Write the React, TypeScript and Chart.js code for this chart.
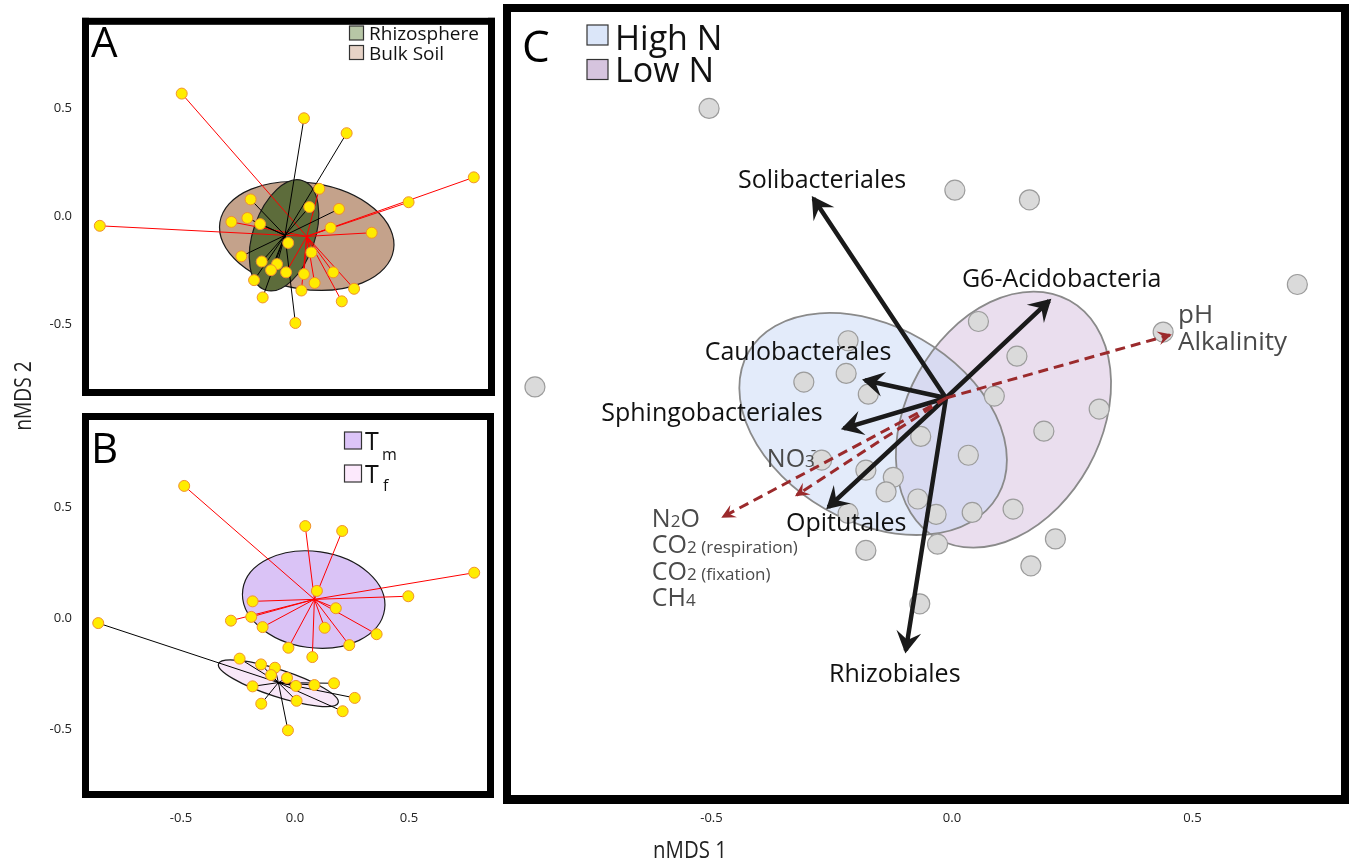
import React, { useEffect, useRef } from 'react';
import { Chart, registerables } from 'chart.js';

Chart.register(...registerables);

const FIG_W = 1355;
const FIG_H = 865;
const FONT = "'Open Sans', 'DejaVu Sans', sans-serif";

// ---------------- Panel A : Rhizosphere vs Bulk Soil ----------------
const rhizoX = [0.030, 0.214, 0.053, 0.181, -0.200, -0.214, -0.159, -0.038, -0.240, -0.152, -0.086, -0.112, -0.185, -0.148, -0.007];
const rhizoY = [0.452, 0.383, 0.042, 0.033, 0.077, -0.009, -0.037, -0.124, -0.186, -0.210, -0.222, -0.250, -0.296, -0.376, -0.494];
const rhizoCentroid = [-0.052, -0.089];
const bulkX = [-0.497, -0.850, -0.283, 0.481, 0.762, 0.096, 0.145, 0.322, 0.062, -0.047, 0.030, 0.019, 0.076, 0.156, 0.246, 0.193];
const bulkY = [0.566, -0.045, -0.027, 0.064, 0.179, 0.126, -0.054, -0.077, -0.168, -0.260, -0.268, -0.344, -0.309, -0.260, -0.336, -0.394];
const bulkCentroid = [0.042, -0.094];
// ellipse: centre x, centre y, semi-axis x, semi-axis y, rotation (deg)
const bulkEllipse = [0.042, -0.092, 0.379, 0.246, 9];
const rhizoEllipse = [-0.056, -0.089, 0.133, 0.267, 19];

// ---------------- Panel B : Tm vs Tf ----------------
const tmX = [-0.486, 0.045, 0.207, 0.786, 0.497, 0.096, -0.186, 0.179, -0.281, -0.192, -0.142, 0.130, 0.358, -0.029, 0.238, 0.076];
const tmY = [0.595, 0.414, 0.392, 0.204, 0.098, 0.122, 0.075, 0.044, -0.012, 0.005, -0.041, -0.044, -0.073, -0.134, -0.122, -0.176];
const tmCentroid = [0.085, 0.084];
const tfX = [-0.863, -0.243, -0.149, -0.088, -0.105, -0.035, -0.186, 0.004, 0.085, 0.171, 0.262, -0.148, 0.007, 0.209, -0.031];
const tfY = [-0.023, -0.183, -0.209, -0.224, -0.257, -0.270, -0.308, -0.306, -0.302, -0.294, -0.360, -0.386, -0.373, -0.420, -0.506];
const tfCentroid = [-0.073, -0.291];
const tmEllipse = [0.082, 0.083, 0.314, 0.217, 8];
const tfEllipse = [-0.073, -0.294, 0.276, 0.061, 18];

// ---------------- Panel C : High N vs Low N ----------------
const cX = [-0.505, 0.006, 0.161, 0.718, -0.867, -0.216, -0.220, -0.308, -0.174, 0.055, 0.135, 0.088, 0.306, 0.439, -0.065, 0.191, 0.034, -0.271, -0.179, -0.122, -0.137, -0.071, -0.216, -0.033, 0.042, 0.127, -0.179, -0.030, 0.215, 0.164, -0.067];
const cY = [0.602, 0.432, 0.412, 0.236, 0.023, 0.119, 0.051, 0.033, 0.008, 0.159, 0.087, 0.004, -0.023, 0.137, -0.080, -0.069, -0.119, -0.129, -0.150, -0.165, -0.195, -0.210, -0.240, -0.242, -0.238, -0.231, -0.317, -0.304, -0.293, -0.349, -0.428];
const highNEllipse = [-0.164, -0.054, 0.299, 0.203, 30];
const lowNEllipse = [0.107, -0.045, 0.202, 0.283, 29];
const vectorOrigin = [-0.0125, 0];
const taxaNames = ['Solibacteriales', 'G6-Acidobacteria', 'Caulobacterales', 'Sphingobacteriales', 'Opitutales', 'Rhizobiales'];
const taxaX = [-0.288, 0.202, -0.181, -0.225, -0.257, -0.096];
const taxaY = [0.415, 0.202, 0.037, -0.063, -0.227, -0.525];
const envX = [0.453, -0.323, -0.476];
const envY = [0.131, -0.202, -0.247];

const axisTicks = [-0.5, 0, 0.5];

// label anchors (data units of panel C)
const taxaLabelAt = [[-0.270, 0.436], [0.228, 0.230], [-0.320, 0.079], [-0.499, -0.048], [-0.220, -0.277], [-0.119, -0.590]];
const envLabels: any[] = [
  { at: [0.470, 0.155], segs: [['pH', 26]] },
  { at: [0.470, 0.100], segs: [['Alkalinity', 26]] },
  { at: [-0.385, -0.143], segs: [['NO', 25], ['3', 17], ['-', 17, -12, -4]] },
  { at: [-0.624, -0.268], segs: [['N', 25], ['2', 17], ['O', 25]] },
  { at: [-0.624, -0.323], segs: [['CO', 25], ['2', 17], [' (respiration)', 17]] },
  { at: [-0.624, -0.378], segs: [['CO', 25], ['2', 17], [' (fixation)', 17]] },
  { at: [-0.624, -0.432], segs: [['CH', 25], ['4', 17]] },
];

const YEL = '#ffec00';
const YEL_EDGE = '#f0902e';
const TICK_COLOR = '#222';

const pts = (xs: number[], ys: number[]) => xs.map((x, i) => ({ x, y: ys[i] }));
const GAP = { x: NaN, y: NaN };
const spokes = (c: number[], xs: number[], ys: number[]) =>
  xs.flatMap((x, i) => [{ x: c[0], y: c[1] }, { x, y: ys[i] }, GAP]);

function ellipsePath(chart: any, e: number[]) {
  const ctx = chart.ctx;
  const xs = chart.scales.x, ys = chart.scales.y;
  const kx = Math.abs(xs.getPixelForValue(1) - xs.getPixelForValue(0));
  const ky = Math.abs(ys.getPixelForValue(1) - ys.getPixelForValue(0));
  ctx.beginPath();
  ctx.ellipse(xs.getPixelForValue(e[0]), ys.getPixelForValue(e[1]), e[2] * kx, e[3] * ky, (e[4] * Math.PI) / 180, 0, Math.PI * 2);
}

function frame(ctx: any, ca: any, t: number, tb: number) {
  ctx.save();
  ctx.fillStyle = '#000';
  ctx.fillRect(ca.left - t, ca.top - t, ca.width + 2 * t, t);
  ctx.fillRect(ca.left - t, ca.bottom, ca.width + 2 * t, tb);
  ctx.fillRect(ca.left - t, ca.top - t, t, ca.height + t + tb);
  ctx.fillRect(ca.right, ca.top - t, t, ca.height + t + tb);
  ctx.restore();
}

function drawRich(ctx: any, x: number, y: number, segs: any[], color: string, align = 'left') {
  ctx.save();
  ctx.fillStyle = color;
  ctx.textBaseline = 'alphabetic';
  ctx.textAlign = 'left';
  let w = 0;
  for (const s of segs) { ctx.font = `${s[1]}px ${FONT}`; w += ctx.measureText(s[0]).width + (s[3] || 0); }
  let cx = align === 'center' ? x - w / 2 : x;
  for (const s of segs) {
    ctx.font = `${s[1]}px ${FONT}`;
    cx += s[3] || 0;
    ctx.fillText(s[0], cx, y + (s[2] || 0));
    cx += ctx.measureText(s[0]).width;
  }
  ctx.restore();
}

function swatch(ctx: any, x: number, y: number, w: number, h: number, fill: string) {
  ctx.save();
  ctx.fillStyle = fill;
  ctx.fillRect(x, y, w, h);
  ctx.strokeStyle = '#333';
  ctx.lineWidth = 1.2;
  ctx.strokeRect(x, y, w, h);
  ctx.restore();
}

function text(ctx: any, s: string, x: number, y: number, size: number, color = '#111', align = 'left') {
  ctx.save();
  ctx.font = `${size}px ${FONT}`;
  ctx.fillStyle = color;
  ctx.textAlign = align;
  ctx.textBaseline = 'alphabetic';
  ctx.fillText(s, x, y);
  ctx.restore();
}

function arrowHead(ctx: any, x0: number, y0: number, x1: number, y1: number, len: number, half: number, color: string, ext: number) {
  const a = Math.atan2(y1 - y0, x1 - x0);
  const c = Math.cos(a), s = Math.sin(a);
  const tx = x1 + c * ext, ty = y1 + s * ext;
  ctx.save();
  ctx.fillStyle = color;
  ctx.beginPath();
  ctx.moveTo(tx, ty);
  ctx.lineTo(tx - c * len - s * half, ty - s * len + c * half);
  ctx.lineTo(tx - c * len * 0.62, ty - s * len * 0.62);
  ctx.lineTo(tx - c * len + s * half, ty - s * len - c * half);
  ctx.closePath();
  ctx.fill();
  ctx.restore();
}

const tickFont = { family: FONT, size: 13 };
const setTicks = (s: any) => { s.ticks = axisTicks.map((v) => ({ value: v })); };
const fmt = (v: any) => Number(v).toFixed(1);

const leftAxis = (min: number, max: number) => ({
  type: 'linear', min, max, position: 'left',
  afterFit: (s: any) => { s.width = 89; },
  afterBuildTicks: setTicks,
  grid: { display: false, drawTicks: false },
  border: { display: false },
  ticks: { padding: 17, color: TICK_COLOR, font: tickFont, callback: fmt },
});
const bottomAxis = (min: number, max: number, pad: number) => ({
  type: 'linear', min, max, position: 'bottom',
  afterFit: (s: any) => { s.height = 40; },
  afterBuildTicks: setTicks,
  grid: { display: false, drawTicks: false },
  border: { display: false },
  ticks: { padding: pad, color: TICK_COLOR, font: tickFont, callback: fmt, maxRotation: 0, autoSkip: false },
});
const hiddenAxis = (min: number, max: number) => ({ type: 'linear', min, max, display: false });

const baseOptions = (padding: any, x: any, y: any) => ({
  responsive: false,
  animation: false,
  events: [],
  layout: { padding },
  plugins: { legend: { display: false }, tooltip: { enabled: false } },
  scales: { x, y },
});

const pointDs = (label: string, data: any[]) => ({
  label, data, order: 0,
  pointRadius: 5.5, pointBackgroundColor: YEL, pointBorderColor: YEL_EDGE, pointBorderWidth: 1,
});
const spokeDs = (label: string, data: any[], color: string, order: number) => ({
  label, data, order, showLine: true, borderColor: color, borderWidth: 1, pointRadius: 0, spanGaps: false,
});

function configA(): any {
  const plugin = {
    id: 'decorA',
    beforeDatasetsDraw(chart: any) {
      const ctx = chart.ctx;
      ctx.save();
      ctx.strokeStyle = '#1a1a1a';
      ctx.lineWidth = 1.2;
      ellipsePath(chart, bulkEllipse); ctx.fillStyle = '#c4a28b'; ctx.fill(); ctx.stroke();
      ellipsePath(chart, rhizoEllipse); ctx.fillStyle = '#5d6c3b'; ctx.fill(); ctx.stroke();
      ctx.restore();
    },
    afterDraw(chart: any) {
      const ctx = chart.ctx;
      frame(ctx, chart.chartArea, 7, 7);
      text(ctx, 'A', 91, 57, 42, '#000');
      swatch(ctx, 349.5, 26, 14, 14, '#b7c6a6');
      swatch(ctx, 349.5, 45.5, 14, 14, '#e6d2c6');
      text(ctx, 'Rhizosphere', 369, 40, 19, '#111');
      text(ctx, 'Bulk Soil', 369, 59.5, 19, '#111');
      // shared y-axis title
      ctx.save();
      ctx.translate(24, 396);
      ctx.rotate(-Math.PI / 2);
      ctx.scale(0.8, 1);
      ctx.font = `24px ${FONT}`;
      ctx.fillStyle = '#222';
      ctx.textAlign = 'center';
      ctx.textBaseline = 'middle';
      ctx.fillText('nMDS 2', 0, 0);
      ctx.restore();
    },
  };
  return {
    type: 'scatter',
    data: {
      datasets: [
        pointDs('Rhizosphere', pts(rhizoX, rhizoY)),
        pointDs('Bulk Soil', pts(bulkX, bulkY)),
        spokeDs('Rhizosphere spokes', spokes(rhizoCentroid, rhizoX, rhizoY), '#000', 1),
        spokeDs('Bulk Soil spokes', spokes(bulkCentroid, bulkX, bulkY), '#ff0000', 2),
      ],
    },
    options: baseOptions({ left: 0, top: 12, right: FIG_W - 488, bottom: FIG_H - 389 }, hiddenAxis(-0.8966, 0.8233), leftAxis(-0.7991, 0.8839)),
    plugins: [plugin],
  };
}

function configB(): any {
  const plugin = {
    id: 'decorB',
    beforeDatasetsDraw(chart: any) {
      const ctx = chart.ctx;
      ctx.save();
      ctx.strokeStyle = '#1a1a1a';
      ctx.lineWidth = 1.2;
      ellipsePath(chart, tmEllipse); ctx.fillStyle = '#dac3f6'; ctx.fill(); ctx.stroke();
      ellipsePath(chart, tfEllipse); ctx.fillStyle = '#f8e7f8'; ctx.fill(); ctx.stroke();
      ctx.restore();
    },
    afterDraw(chart: any) {
      const ctx = chart.ctx;
      frame(ctx, chart.chartArea, 7, 7);
      text(ctx, 'B', 91, 463, 42, '#000');
      swatch(ctx, 344.5, 432, 17, 17, '#dcc4f8');
      swatch(ctx, 344.5, 465, 17, 17, '#fce9fc');
      text(ctx, 'T', 365, 449.5, 25, '#111');
      text(ctx, 'm', 382, 459.5, 16, '#111');
      text(ctx, 'T', 365, 482.5, 25, '#111');
      text(ctx, 'f', 383, 491, 16, '#111');
    },
  };
  return {
    type: 'scatter',
    data: {
      datasets: [
        pointDs('Tm', pts(tmX, tmY)),
        pointDs('Tf', pts(tfX, tfY)),
        spokeDs('Tm spokes', spokes(tmCentroid, tmX, tmY), '#ff0000', 1),
        spokeDs('Tf spokes', spokes(tfCentroid, tfX, tfY), '#000', 2),
      ],
    },
    options: baseOptions({ left: 0, top: 420, right: FIG_W - 487, bottom: 34 }, bottomAxis(-0.9035, 0.8421, 19.2), leftAxis(-0.7793, 0.8919)),
    plugins: [plugin],
  };
}

function configC(): any {
  const plugin = {
    id: 'decorC',
    beforeDatasetsDraw(chart: any) {
      const ctx = chart.ctx;
      ctx.save();
      ellipsePath(chart, lowNEllipse); ctx.fillStyle = 'rgba(213,190,222,0.5)'; ctx.fill();
      ellipsePath(chart, highNEllipse); ctx.fillStyle = 'rgba(200,215,245,0.5)'; ctx.fill();
      ctx.strokeStyle = '#8a8a8a';
      ctx.lineWidth = 1.8;
      ellipsePath(chart, lowNEllipse); ctx.stroke();
      ellipsePath(chart, highNEllipse); ctx.stroke();
      ctx.restore();
    },
    afterDatasetsDraw(chart: any) {
      const ctx = chart.ctx;
      const xs = chart.scales.x, ys = chart.scales.y;
      const ox = xs.getPixelForValue(vectorOrigin[0]);
      const oy = ys.getPixelForValue(vectorOrigin[1]);
      taxaX.forEach((x, i) => arrowHead(ctx, ox, oy, xs.getPixelForValue(x), ys.getPixelForValue(taxaY[i]), 22, 12.5, '#1a1a1a', 3));
      envX.forEach((x, i) => arrowHead(ctx, ox, oy, xs.getPixelForValue(x), ys.getPixelForValue(envY[i]), 14, 7, '#9b2a2c', 2));
      taxaNames.forEach((n, i) => {
        text(ctx, n, xs.getPixelForValue(taxaLabelAt[i][0]), ys.getPixelForValue(taxaLabelAt[i][1]), 25, '#111', 'center');
      });
      envLabels.forEach((l) => drawRich(ctx, xs.getPixelForValue(l.at[0]), ys.getPixelForValue(l.at[1]), l.segs, '#4a4a4a'));
    },
    afterDraw(chart: any) {
      const ctx = chart.ctx;
      frame(ctx, chart.chartArea, 8, 9);
      text(ctx, 'C', 522, 62, 44, '#000');
      swatch(ctx, 587, 25, 21, 20, '#dbe6f9');
      swatch(ctx, 587, 59.5, 21, 20, '#d6c4de');
      text(ctx, 'High N', 615, 50, 34, '#111');
      text(ctx, 'Low N', 615, 82, 34, '#111');
      ctx.save();
      ctx.translate(690, 851);
      ctx.scale(0.85, 1);
      ctx.font = `24px ${FONT}`;
      ctx.fillStyle = '#222';
      ctx.textAlign = 'center';
      ctx.textBaseline = 'middle';
      ctx.fillText('nMDS 1', 0, 0);
      ctx.restore();
    },
  };
  const origin = { x: vectorOrigin[0], y: vectorOrigin[1] };
  const taxaShafts = taxaX.flatMap((x, i) => [origin, { x, y: taxaY[i] }, GAP]);
  const envShafts = envX.flatMap((x, i) => [origin, { x, y: envY[i] }, GAP]);
  return {
    type: 'scatter',
    data: {
      datasets: [
        { label: 'Samples', data: pts(cX, cY), order: 3, pointRadius: 10, pointBackgroundColor: '#dadada', pointBorderColor: '#9c9c9c', pointBorderWidth: 1.2 },
        { label: 'Taxa vectors', data: taxaShafts, order: 2, showLine: true, borderColor: '#1a1a1a', borderWidth: 4.5, pointRadius: 0, spanGaps: false },
        { label: 'Environmental vectors', data: envShafts, order: 1, showLine: true, borderColor: '#9b2a2c', borderWidth: 3, borderDash: [10, 6], pointRadius: 0, spanGaps: false },
      ],
    },
    options: baseOptions({ left: 511, top: 12, right: FIG_W - 1341, bottom: 30 }, bottomAxis(-0.9168, 0.8087, 15.2), hiddenAxis(-0.8254, 0.8025)),
    plugins: [plugin],
  };
}

export default function App() {
  const refA = useRef<HTMLCanvasElement>(null);
  const refB = useRef<HTMLCanvasElement>(null);
  const refC = useRef<HTMLCanvasElement>(null);
  useEffect(() => {
    const charts = [
      new Chart(refA.current as HTMLCanvasElement, configA()),
      new Chart(refB.current as HTMLCanvasElement, configB()),
      new Chart(refC.current as HTMLCanvasElement, configC()),
    ];
    return () => charts.forEach((c) => c.destroy());
  }, []);
  const cs: any = { position: 'absolute', left: 0, top: 0, width: FIG_W, height: FIG_H };
  return (
    <div style={{ position: 'fixed', left: 0, top: 0, width: FIG_W, height: FIG_H, background: '#fff', overflow: 'hidden' }}>
      <canvas ref={refA} width={FIG_W} height={FIG_H} style={cs} />
      <canvas ref={refB} width={FIG_W} height={FIG_H} style={cs} />
      <canvas ref={refC} width={FIG_W} height={FIG_H} style={cs} />
    </div>
  );
}
